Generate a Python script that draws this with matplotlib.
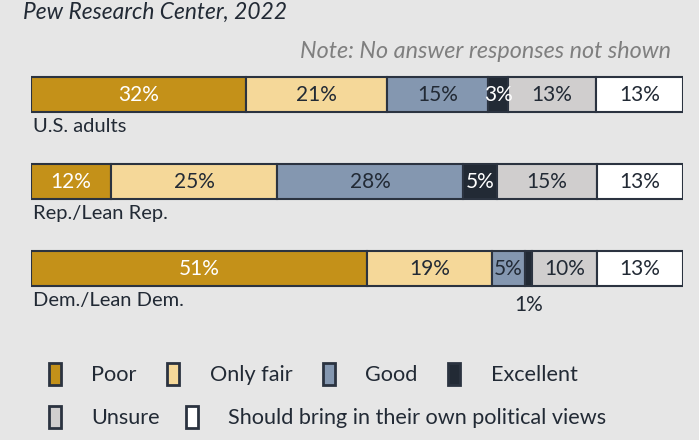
import matplotlib
matplotlib.use("Agg")
import matplotlib.pyplot as plt
from matplotlib.patches import Patch
import numpy as np

groups = ["U.S. adults", "Rep./Lean Rep.", "Dem./Lean Dem."]
categories = ["Poor", "Only fair", "Good", "Excellent", "Unsure",
              "Should bring in their own political views"]
values = {
    "U.S. adults":    [32, 21, 15, 3, 13, 13],
    "Rep./Lean Rep.": [12, 25, 28, 5, 15, 13],
    "Dem./Lean Dem.": [51, 19, 5, 1, 10, 13],
}
colors = ["#c49119", "#f5d899", "#8497b0", "#222a35", "#d0cece", "#ffffff"]
text_colors = ["white", "#222a35", "#222a35", "white", "#222a35", "#222a35"]
edge = "#2b3340"
bg = "#e6e6e6"

plt.rcParams['font.family'] = ['Lato', 'DejaVu Sans']

W, H = 699, 440
fig = plt.figure(figsize=(W / 100, H / 100), dpi=100, facecolor=bg)

def px(x, y):
    return x / W, 1 - y / H

ax = fig.add_axes([31 / W, 1 - 312 / H, 652 / W, 261 / H])
ax.set_facecolor(bg)
ax.patch.set_alpha(0)
ax.set_xlim(0, 1)
ax.set_ylim(2.5, -0.5)
ax.axis("off")

bar_h = 0.40
for i, g in enumerate(groups):
    vals = np.array(values[g], dtype=float)
    frac = vals / vals.sum()
    left = 0.0
    for j, (v, f) in enumerate(zip(vals, frac)):
        ax.barh(i, f, left=left, height=bar_h, color=colors[j],
                edgecolor=edge, linewidth=1.5)
        cx = left + f / 2
        if v >= 2:
            ax.text(cx, i, f"{int(v)}%", ha="center", va="center",
                    fontsize=15, color=text_colors[j])
        else:
            ax.text(cx, i + 0.42, f"{int(v)}%", ha="center", va="center",
                    fontsize=15, color="#222a35")
        left += f
    ax.text(0.003, i + 0.37, g, ha="left", va="center", fontsize=14.5,
            color="#222a35")

fig.text(*px(23, 12), "Pew Research Center, 2022", ha="left", va="center",
         fontsize=16.4, style="italic", color="#222a35")
fig.text(*px(671, 52), "Note: No answer responses not shown", ha="right",
         va="center", fontsize=16.8, style="italic", color="#7f7f7f")

handles = [Patch(facecolor=c, edgecolor=edge, linewidth=2) for c in colors]
leg_kw = dict(frameon=False, fontsize=15.6, handlelength=0.55,
              handleheight=1.2, handletextpad=1.4,
              labelcolor="#222a35", borderpad=0, borderaxespad=0)
leg1 = fig.legend(handles[:4], categories[:4], ncol=4, columnspacing=1.42,
                  loc="center left", bbox_to_anchor=px(49, 374), **leg_kw)
leg2 = fig.legend(handles[4:], categories[4:], ncol=2, columnspacing=1.2,
                  loc="center left", bbox_to_anchor=px(49, 417), **leg_kw)

fig.savefig("out.png", dpi=100, facecolor=bg)
